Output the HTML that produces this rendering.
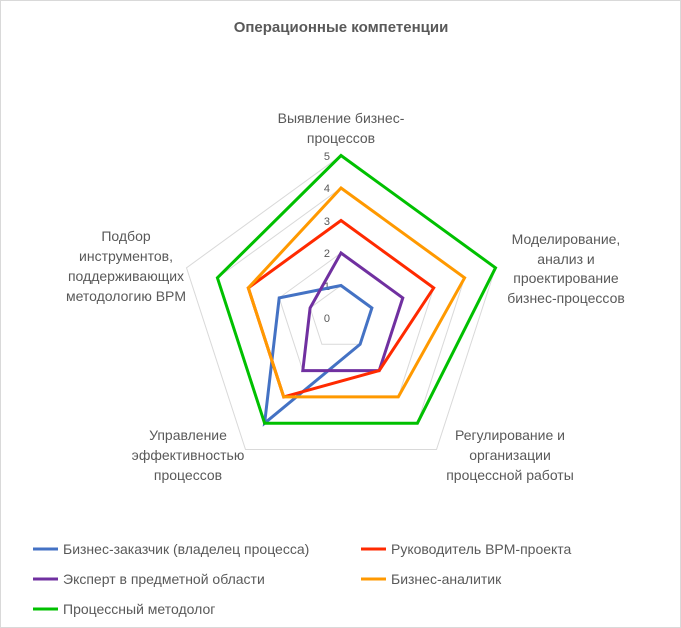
<!DOCTYPE html>
<html><head><meta charset="utf-8"><style>
html,body{margin:0;padding:0;background:#fff}
svg{display:block;font-family:"Liberation Sans","DejaVu Sans",sans-serif}
</style></head><body>
<svg id="s" width="681" height="628" viewBox="0 0 681 628" xmlns="http://www.w3.org/2000/svg">
<rect x="0.5" y="0.5" width="680" height="627" fill="#fff" stroke="#d9d9d9"/>
<text x="341" y="32" text-anchor="middle" font-size="15" font-weight="bold" fill="#595959">Операционные компетенции</text>
<g id="grid" fill="none" stroke="#d9d9d9" stroke-width="1"></g>
<g font-size="11" fill="#595959" text-anchor="end">
<text x="330" y="160">5</text><text x="330" y="192">4</text><text x="330" y="225">3</text><text x="330" y="257">2</text><text x="330" y="290">1</text><text x="330" y="322">0</text>
</g>
<g id="series" fill="none" stroke-width="3" stroke-linejoin="miter"></g>
<g font-size="14" fill="#595959" text-anchor="middle">
<text x="341" y="123">Выявление бизнес-</text><text x="341" y="143">процессов</text>
<text x="566" y="244">Моделирование,</text><text x="566" y="264">анализ и</text><text x="566" y="283">проектирование</text><text x="566" y="303">бизнес-процессов</text>
<text x="510" y="440">Регулирование и</text><text x="510" y="460">организации</text><text x="510" y="480">процессной работы</text>
<text x="188" y="440">Управление</text><text x="188" y="460">эффективностью</text><text x="188" y="480">процессов</text>
<text x="126" y="241">Подбор</text><text x="126" y="261">инструментов,</text><text x="126" y="281">поддерживающих</text><text x="126" y="301">методологию BPM</text>
</g>
<g stroke-width="3">
<line x1="33" y1="549" x2="58" y2="549" stroke="#4472c4"/>
<line x1="361" y1="549" x2="386" y2="549" stroke="#ff2a00"/>
<line x1="33" y1="579" x2="58" y2="579" stroke="#7030a0"/>
<line x1="361" y1="579" x2="386" y2="579" stroke="#ff9900"/>
<line x1="33" y1="609" x2="58" y2="609" stroke="#00c000"/>
</g>
<g font-size="14" fill="#595959">
<text x="63" y="554">Бизнес-заказчик (владелец процесса)</text>
<text x="391" y="554">Руководитель BPM-проекта</text>
<text x="63" y="584">Эксперт в предметной области</text>
<text x="391" y="584">Бизнес-аналитик</text>
<text x="63" y="614">Процессный методолог</text>
</g>
</svg>
<script>
var cx=341,cy=318,u=32.5,NS="http://www.w3.org/2000/svg";
function pts(v){return v.map(function(r,i){var a=i*72*Math.PI/180;return (cx+r*u*Math.sin(a)).toFixed(1)+","+(cy-r*u*Math.cos(a)).toFixed(1)}).join(" ")}
var g=document.getElementById("grid");
for(var l=1;l<=5;l++){var p=document.createElementNS(NS,"polygon");p.setAttribute("points",pts([l,l,l,l,l]));g.appendChild(p);}
var S=[["#4472c4",[1,1,1,4,2]],["#7030a0",[2,2,2,2,1]],["#ff2a00",[3,3,2,3,3]],["#ff9900",[4,4,3,3,3]],["#00c000",[5,5,4,4,4]]];
var sg=document.getElementById("series");
S.forEach(function(s){var p=document.createElementNS(NS,"polygon");p.setAttribute("points",pts(s[1]));p.setAttribute("stroke",s[0]);sg.appendChild(p);});
</script>
</body></html>
